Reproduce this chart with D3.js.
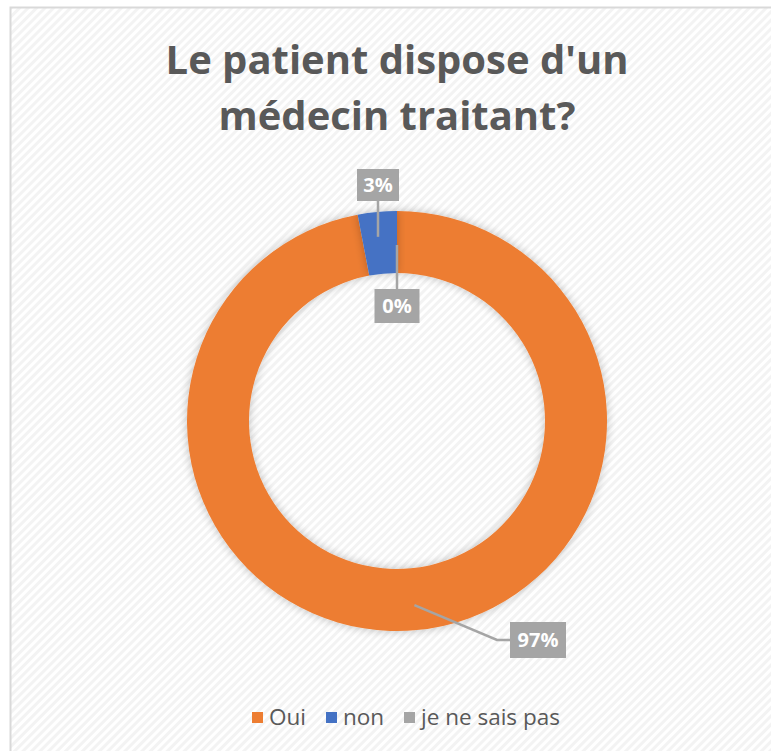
<!DOCTYPE html>
<html lang="fr">
<head>
<meta charset="UTF-8">
<title>Le patient dispose d'un médecin traitant?</title>
<script src="https://d3js.org/d3.v7.min.js"></script>
<style>
  body { margin: 0; background: #fff; }
  text { font-family: "Open Sans", "Noto Sans", sans-serif; }
</style>
</head>
<body>
<script>
// data
var categories = ["Oui", "non", "je ne sais pas"];
var values = [97, 3, 0];
var labels = ["97%", "3%", "0%"];
var colors = ["#ED7D31", "#4472C4", "#A5A5A5"];
var titleLines = ["Le patient dispose d'un", "médecin traitant?"];

var W = 771, H = 751;
var cx = 397, cy = 421, rOuter = 210, rInner = 148;

var svg = d3.select("body").append("svg")
    .attr("width", W)
    .attr("height", H);

var defs = svg.append("defs");

// diagonal stripe background
var pat = defs.append("pattern")
    .attr("id", "stripes")
    .attr("patternUnits", "userSpaceOnUse")
    .attr("width", 6).attr("height", 6)
    .attr("patternTransform", "rotate(45)");
pat.append("rect").attr("width", 6).attr("height", 6).attr("fill", "#ffffff");
pat.append("rect").attr("width", 3).attr("height", 6).attr("fill", "#f3f3f3");

var shadow = defs.append("filter").attr("id", "shadow")
    .attr("x", "-20%").attr("y", "-20%").attr("width", "140%").attr("height", "140%");
shadow.append("feGaussianBlur").attr("in", "SourceAlpha").attr("stdDeviation", 5).attr("result", "b");
shadow.append("feComponentTransfer").attr("in", "b").attr("result", "s")
    .append("feFuncA").attr("type", "linear").attr("slope", 0.25);
var merge = shadow.append("feMerge");
merge.append("feMergeNode").attr("in", "s");
merge.append("feMergeNode").attr("in", "SourceGraphic");

svg.append("rect")
    .attr("x", 10.5).attr("y", 7.5)
    .attr("width", W + 10).attr("height", H + 10)
    .attr("fill", "url(#stripes)")
    .attr("stroke", "#d9d9d9")
    .attr("stroke-width", 2);

// title, sized to the width of each line in the original
var title = svg.append("g");
var targetW = [463, 357];
var titleBase = [74, 130];
titleLines.forEach(function(t, i) {
    var tx = title.append("text")
        .attr("x", cx)
        .attr("y", titleBase[i])
        .attr("text-anchor", "middle")
        .attr("font-weight", 700)
        .attr("font-size", 40)
        .attr("fill", "#595959")
        .text(t);
    var w = tx.node().getComputedTextLength();
    tx.attr("font-size", 40 * targetW[i] / w);
});

// donut
var pie = d3.pie().sort(null).value(function(d) { return d; });
var arcs = pie(values);
var arc = d3.arc().innerRadius(rInner).outerRadius(rOuter);

var g = svg.append("g").attr("transform", "translate(" + cx + "," + cy + ")");

g.selectAll("path.slice")
    .data(arcs)
    .enter().append("path")
    .attr("class", "slice")
    .attr("d", arc)
    .attr("fill", function(d, i) { return colors[i]; })
    .attr("filter", "url(#shadow)");

// data labels with leader lines
var labelPos = [
    {x: 538, y: 640, w: 56, h: 36},
    {x: 378, y: 185, w: 42, h: 32},
    {x: 397, y: 306, w: 45, h: 34}
];
var labelMid = d3.arc().innerRadius((rInner + rOuter) / 2 + 6).outerRadius((rInner + rOuter) / 2 + 6);

arcs.forEach(function(d, i) {
    var p = labelPos[i];
    var a = labelMid.centroid(d);
    var ax = cx + a[0], ay = cy + a[1];
    var pts;
    if (i === 0) {
        pts = [[ax, ay], [p.x - p.w / 2 - 13, p.y], [p.x - p.w / 2, p.y]];
    } else if (i === 1) {
        pts = [[p.x, ay], [p.x, p.y + p.h / 2]];
    } else {
        pts = [[p.x, cy - rOuter + 34], [p.x, p.y - p.h / 2]];
    }
    svg.append("path")
        .attr("d", d3.line()(pts))
        .attr("fill", "none")
        .attr("stroke", "#a5a5a5")
        .attr("stroke-width", 2.5);
    svg.append("rect")
        .attr("x", p.x - p.w / 2).attr("y", p.y - p.h / 2)
        .attr("width", p.w).attr("height", p.h)
        .attr("fill", "#a5a5a5");
    svg.append("text")
        .attr("x", p.x).attr("y", p.y)
        .attr("dy", "0.36em")
        .attr("text-anchor", "middle")
        .attr("font-weight", 700)
        .attr("font-size", 20)
        .attr("fill", "#ffffff")
        .text(labels[i]);
});

// legend
var legendX = [252, 326, 404];
var legend = svg.append("g").attr("transform", "translate(0,717)");
categories.forEach(function(c, i) {
    legend.append("rect")
        .attr("x", legendX[i]).attr("y", -5)
        .attr("width", 11).attr("height", 11)
        .attr("fill", colors[i]);
    legend.append("text")
        .attr("x", legendX[i] + 17).attr("y", 0)
        .attr("dy", "0.35em")
        .attr("font-size", 22.5)
        .attr("fill", "#595959")
        .text(c);
});
</script>
</body>
</html>
